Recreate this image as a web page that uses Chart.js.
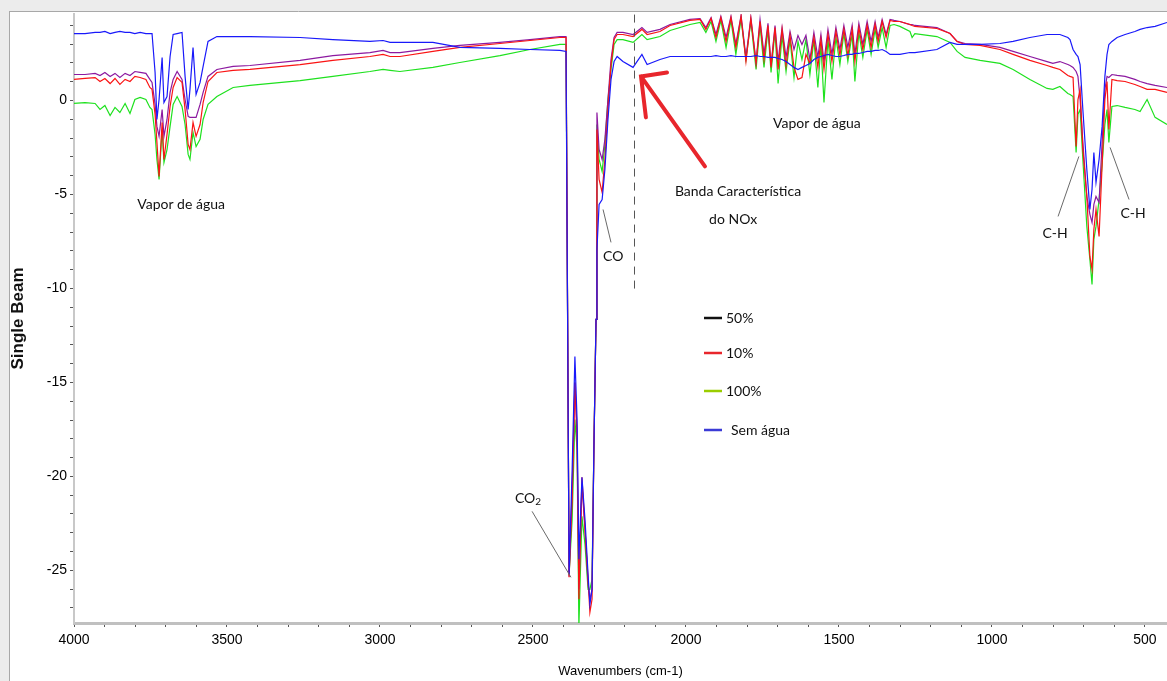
<!DOCTYPE html>
<html>
<head>
<meta charset="utf-8">
<title>Single Beam</title>
<script src="https://cdn.jsdelivr.net/npm/chart.js@4.4.1/dist/chart.umd.min.js"></script>
<style>
  html, body { margin: 0; padding: 0; background: #fff; overflow: hidden; }
  #spectrum { display: block; }
</style>
</head>
<body>
<canvas id="spectrum" width="1167" height="681"></canvas>
<script>
// wavenumbers (cm-1), shared by all four spectra
const wavenumbers = [
  4000, 3964, 3931, 3915, 3899, 3882, 3866, 3850, 3833, 3817, 3801, 3784, 3765, 3752,
  3745, 3735, 3729, 3722, 3712, 3706, 3696, 3686, 3676, 3663, 3647, 3637, 3627, 3621, 3611, 3601, 3588, 3578, 3562, 3533, 3480, 3425,
  3261, 3154, 3033, 2990, 2967, 2935, 2827, 2739, 2608, 2510, 2412,
  2392, 2382, 2372, 2363, 2356, 2350, 2340, 2330, 2320, 2314, 2307, 2301, 2294, 2291, 2284, 2274, 2265, 2255, 2245, 2235, 2225, 2206, 2173, 2144, 2127, 2085,
  2052, 1987, 1954, 1935, 1918, 1902, 1886, 1869, 1853, 1837, 1820, 1804, 1788, 1771, 1758, 1745, 1732, 1722, 1709, 1699,
  1686, 1673, 1660, 1647, 1634, 1621, 1608, 1595, 1582, 1569, 1559, 1549, 1536, 1523, 1510, 1497, 1484, 1471, 1457, 1448,
  1435, 1422, 1408, 1395, 1382, 1372, 1359, 1346, 1333, 1320,
  1301, 1268, 1261, 1252, 1180, 1137, 1114, 1088, 1039, 974, 931, 876, 820, 801, 778, 752, 745, 735, 725, 719,
  712, 703, 690, 680, 673, 667, 660, 650, 640, 631, 624, 618, 608, 591, 565, 533, 516, 493, 467, 428
];

const semAgua = [
  3.56, 3.56, 3.62, 3.62, 3.67, 3.56, 3.62, 3.67, 3.62, 3.62, 3.56, 3.62, 3.56, 3.56,
  3.56, 1.49, -1.01, 0.05, 2.29, -0.11, 0.21, 2.34, 3.51, 3.56, 3.62, 1.28, -0.48, 0.59, 2.82, 0.32, 0.96, 1.81, 3.14, 3.40, 3.40, 3.40,
  3.35, 3.24, 3.14, 3.19, 3.09, 3.09, 3.09, 2.82, 2.77, 2.71, 2.66,
  2.61, -25.21, -19.63, -13.62, -16.97, -24.41, -20.05, -22.29, -25.21, -26.81, -26.01, -18.56, -11.65, -7.93, -5.53, -5.27, -3.67, -1.01, 1.12, 2.07, 2.34, 2.07, 1.76, 2.45, 1.91, 2.18,
  2.34, 2.34, 2.34, 2.34, 2.34, 2.39, 2.34, 2.34, 2.39, 2.34, 2.34, 2.34, 2.34, 2.39, 2.34, 2.34, 2.29, 2.29, 2.29, 2.23,
  2.18, 2.07, 1.91, 1.76, 1.65, 1.76, 1.86, 1.97, 2.18, 2.29, 2.34, 2.39, 2.45, 2.39, 2.34, 2.34, 2.39, 2.45, 2.45, 2.50,
  2.50, 2.55, 2.61, 2.61, 2.66, 2.66, 2.71, 2.61, 2.45, 2.45,
  2.45, 2.55, 2.55, 2.55, 2.71, 3.09, 2.98, 2.98, 2.98, 3.03, 3.14, 3.35, 3.51, 3.51, 3.51, 3.35, 3.24, 2.71, 2.45, 2.34,
  1.91, -0.48, -3.67, -5.80, -4.73, -2.77, -4.36, -3.14, -1.38, 1.28, 2.45, 2.98, 3.14, 3.35, 3.51, 3.67, 3.78, 3.88, 3.94, 4.15
];

const agua50 = [
  1.38, 1.38, 1.44, 1.33, 1.49, 1.28, 1.44, 1.22, 1.44, 1.33, 1.54, 1.49, 1.44, 1.12,
  0.96, -0.21, -1.38, -1.91, -0.48, -1.91, -1.01, 0.43, 1.12, 1.54, 1.12, 0.05, -0.85, -0.90, -0.90, -0.90, -0.21, 0.43, 1.28, 1.65, 1.81, 1.86,
  2.13, 2.39, 2.55, 2.66, 2.55, 2.55, 2.77, 2.93, 3.09, 3.24, 3.40,
  3.40, -25.32, -20.69, -15.00, -17.50, -26.01, -20.43, -22.82, -25.74, -26.54, -26.01, -18.56, -11.65, -0.64, -2.61, -3.14, -2.07, 0.05, 2.18, 3.35, 3.62, 3.62, 3.51, 3.88, 3.62, 3.78,
  4.04, 4.31, 4.36, 3.88, 4.41, 3.51, 4.47, 3.35, 4.47, 2.98, 4.52, 2.29, 4.41, 2.07, 4.31, 2.45, 4.10, 1.86, 3.99, 2.07,
  3.88, 2.29, 3.67, 2.71, 3.46, 2.98, 3.46, 2.18, 3.62, 2.29, 3.51, 2.07, 3.78, 2.45, 3.88, 2.71, 3.99, 2.82, 3.99, 2.45,
  4.10, 2.98, 4.20, 3.14, 4.20, 3.35, 4.31, 3.51, 4.31, 4.26,
  4.20, 4.04, 4.04, 3.99, 3.88, 3.56, 3.14, 3.03, 2.98, 2.82, 2.61, 2.34, 2.07, 1.97, 2.07, 1.91, 1.86, 1.76, 1.54, 1.28,
  0.05, -2.23, -5.11, -6.06, -6.49, -5.53, -5.11, -5.43, -2.23, 0.59, 1.28, 1.22, 1.38, 1.33, 1.28, 1.12, 1.01, 0.90, 0.80, 0.69
];

const agua10 = [
  1.12, 1.17, 1.22, 1.01, 1.17, 0.90, 1.17, 0.85, 1.12, 1.01, 1.28, 1.22, 1.12, 0.69,
  0.59, -0.74, -2.23, -4.04, -1.17, -3.14, -1.81, -0.32, 0.69, 1.22, 0.96, -0.48, -2.34, -2.61, -1.17, -1.91, -1.28, -0.11, 1.01, 1.49, 1.60, 1.65,
  1.91, 2.13, 2.34, 2.45, 2.34, 2.34, 2.61, 2.82, 3.03, 3.19, 3.35,
  3.35, -25.37, -21.22, -15.00, -18.03, -26.54, -20.05, -22.82, -25.48, -27.23, -26.54, -18.56, -11.65, -1.54, -4.20, -4.89, -3.14, -0.48, 1.91, 3.24, 3.51, 3.51, 3.40, 3.78, 3.51, 3.67,
  3.99, 4.26, 4.31, 3.78, 4.36, 3.35, 4.41, 3.14, 4.41, 2.82, 4.47, 2.07, 4.36, 1.97, 4.20, 2.18, 3.99, 1.76, 3.88, 1.65,
  3.78, 1.86, 3.46, 1.76, 1.12, 1.22, 2.45, 1.97, 3.35, 1.76, 3.24, 1.65, 3.51, 2.07, 3.67, 2.39, 3.78, 2.39, 3.78, 2.07,
  3.88, 2.71, 3.99, 2.82, 4.04, 3.14, 4.20, 3.35, 4.26, 4.20,
  4.20, 4.04, 3.99, 3.94, 3.83, 3.56, 3.14, 2.98, 2.93, 2.71, 2.45, 2.13, 1.86, 1.76, 1.65, 1.33, 1.28, 1.22, -2.45, 0.05,
  0.59, -2.61, -5.11, -8.30, -8.99, -6.86, -5.80, -7.23, -3.40, 0.05, 1.01, -1.54, 1.12, 1.06, 1.01, 0.85, 0.74, 0.59, 0.59, 0.43
];

const agua100 = [
  -0.16, -0.11, -0.16, -0.48, -0.27, -0.80, -0.37, -0.64, -0.16, -0.69, 0.05, 0.16, 0.05, -0.37,
  -0.48, -1.81, -3.14, -4.20, -1.54, -3.30, -2.61, -1.38, -0.21, 0.21, -0.32, -1.28, -2.87, -3.14, -1.70, -2.45, -2.07, -1.01, -0.21, 0.21, 0.69, 0.80,
  1.06, 1.28, 1.54, 1.65, 1.60, 1.54, 1.76, 2.02, 2.39, 2.71, 2.98,
  2.98, -25.21, -22.29, -16.97, -18.56, -28.0, -22.13, -23.62, -26.01, -26.01, -25.48, -18.56, -11.65, -1.28, -3.14, -3.78, -2.34, 0.05, 1.65, 2.98, 3.24, 3.24, 3.09, 3.51, 3.24, 3.40,
  3.72, 4.04, 4.15, 3.62, 4.20, 3.14, 4.26, 2.82, 4.26, 2.45, 4.31, 2.18, 4.20, 1.65, 3.99, 1.76, 3.78, 1.49, 3.67, 0.90,
  3.46, 1.54, 3.24, 1.22, 3.14, 2.18, 3.24, 1.38, 3.24, 0.69, 2.98, -0.11, 3.24, 1.12, 3.35, 1.91, 3.56, 2.07, 3.51, 1.01,
  3.62, 2.29, 3.78, 2.45, 3.78, 2.82, 3.88, 2.82, 3.99, 4.04,
  3.94, 3.67, 3.35, 3.56, 3.40, 3.09, 2.61, 2.29, 2.13, 1.97, 1.65, 1.12, 0.64, 0.59, 0.74, 0.37, 0.32, 0.21, -2.77, -0.74,
  -0.48, -3.14, -6.70, -8.46, -9.79, -7.39, -6.70, -5.27, -3.40, -1.28, -0.48, -2.23, -0.32, -0.27, -0.37, -0.48, -0.59, 0.05, -0.90, -1.28
];

const xTickLabels = [4000, 3500, 3000, 2500, 2000, 1500, 1000, 500];
const yTickLabels = [0, -5, -10, -15, -20, -25];

const legendNames = ["50%", "10%", "100%", "Sem água"];
const legendColors = ["#111111", "#e8262c", "#9acd00", "#3b3bd6"];

// notes placed in data units (wavenumber, single beam)
const noteTexts = [
  { text: "Vapor de água", x: 3650, y: -5.53 },
  { text: "Vapor de água", x: 1572, y: -1.22 },
  { text: "Banda Característica", x: 1830, y: -4.84 },
  { text: "do NOx", x: 1846, y: -6.33 },
  { text: "CO", x: 2238, y: -8.3 },
  { text: "C-H", x: 794, y: -7.07 },
  { text: "C-H", x: 539, y: -6.01 }
];
const leaderLines = [
  [2503, -21.86, 2376, -25.37],
  [2271, -5.8, 2245, -7.55],
  [716, -2.98, 784, -6.17],
  [614, -2.5, 552, -5.27]
];
const noxMarker = { x: 2170, top: 4.57, bottom: -10.32 };
const noxArrow = { tipX: 2147, tipY: 1.28, tailX: 1938, tailY: -3.51, headA: [2062, 1.49], headB: [2131, -0.9] };

const toPoints = (ys) => wavenumbers.map((x, i) => ({ x: x, y: ys[i] }));

const frame = {
  id: "frame",
  beforeDraw(chart) {
    const c = chart.ctx;
    const w = chart.width;
    const h = chart.height;
    c.save();
    c.fillStyle = "#ffffff";
    c.fillRect(0, 0, w, h);
    c.fillStyle = "#ececec";
    c.fillRect(0, 0, w, 11);
    c.fillRect(0, 0, 9, h);
    c.strokeStyle = "#a8a8a8";
    c.lineWidth = 1;
    c.beginPath();
    c.moveTo(9.5, 11);
    c.lineTo(9.5, h);
    c.moveTo(9, 11.5);
    c.lineTo(w, 11.5);
    c.stroke();
    c.restore();
  }
};

const notes = {
  id: "notes",
  afterDatasetsDraw(chart) {
    const c = chart.ctx;
    const { x, y } = chart.scales;
    const px = (v) => x.getPixelForValue(v);
    const py = (v) => y.getPixelForValue(v);
    c.save();

    // dashed marker at the NOx band
    c.strokeStyle = "#555";
    c.lineWidth = 1;
    c.setLineDash([8, 6]);
    c.beginPath();
    c.moveTo(Math.round(px(noxMarker.x)) + 0.5, py(noxMarker.top));
    c.lineTo(Math.round(px(noxMarker.x)) + 0.5, py(noxMarker.bottom));
    c.stroke();
    c.setLineDash([]);

    // leader lines
    c.strokeStyle = "#6a6a6a";
    c.lineWidth = 1;
    leaderLines.forEach(([x1, y1, x2, y2]) => {
      c.beginPath();
      c.moveTo(px(x1), py(y1));
      c.lineTo(px(x2), py(y2));
      c.stroke();
    });

    // red arrow
    c.strokeStyle = "#e8262c";
    c.lineWidth = 4;
    c.lineCap = "round";
    c.beginPath();
    c.moveTo(px(noxArrow.tailX), py(noxArrow.tailY));
    c.lineTo(px(noxArrow.tipX), py(noxArrow.tipY));
    c.moveTo(px(noxArrow.headA[0]), py(noxArrow.headA[1]));
    c.lineTo(px(noxArrow.tipX), py(noxArrow.tipY));
    c.lineTo(px(noxArrow.headB[0]), py(noxArrow.headB[1]));
    c.stroke();

    // text notes
    c.fillStyle = "#111";
    c.font = "14px Lato, 'Open Sans', sans-serif";
    c.textAlign = "center";
    c.textBaseline = "middle";
    noteTexts.forEach((n) => c.fillText(n.text, px(n.x), py(n.y)));

    // CO2 with subscript
    const cx = px(2523);
    const cy = py(-21.17);
    c.textAlign = "left";
    const w = c.measureText("CO").width;
    c.fillText("CO", cx - 11, cy);
    c.font = "10px Lato, 'Open Sans', sans-serif";
    c.fillText("2", cx - 11 + w, cy + 3);

    // legend
    const area = chart.chartArea;
    const lx = area.left + 630;
    const rows = [318, 353, 391, 430];
    c.font = "14px Lato, 'Open Sans', sans-serif";
    c.lineCap = "butt";
    legendNames.forEach((name, i) => {
      c.strokeStyle = legendColors[i];
      c.lineWidth = 2.5;
      c.beginPath();
      c.moveTo(lx, rows[i]);
      c.lineTo(lx + 18, rows[i]);
      c.stroke();
      c.fillStyle = "#111";
      c.fillText(name, lx + (i === 3 ? 27 : 22), rows[i]);
    });
    c.restore();
  }
};

const tickFont = { family: "'Liberation Sans', Arial, sans-serif", size: 14 };

new Chart(document.getElementById("spectrum"), {
  type: "line",
  data: {
    datasets: [
      { label: "Sem água", data: toPoints(semAgua), borderColor: "rgb(25,25,250)" },
      { label: "10%", data: toPoints(agua10), borderColor: "rgb(250,20,20)" },
      { label: "50%", data: toPoints(agua50), borderColor: "rgb(140,25,160)" },
      { label: "100%", data: toPoints(agua100), borderColor: "rgb(30,225,30)" }
    ]
  },
  options: {
    responsive: false,
    animation: false,
    layout: { padding: { top: 14, right: 0, left: 0, bottom: 0 } },
    elements: {
      point: { radius: 0 },
      line: { borderWidth: 1.2, tension: 0 }
    },
    plugins: {
      legend: { display: false },
      tooltip: { enabled: false }
    },
    scales: {
      x: {
        type: "linear",
        reverse: true,
        min: 428,
        max: 4000,
        ticks: {
          stepSize: 100,
          includeBounds: false,
          autoSkip: false,
          maxRotation: 0,
          padding: 5,
          color: "#000",
          font: tickFont,
          callback: (v) => (xTickLabels.includes(v) ? String(v) : "")
        },
        grid: { drawOnChartArea: false, tickLength: 4, color: "#555" },
        border: { color: "#c0c0c0", width: 3 },
        title: {
          display: true,
          text: "Wavenumbers (cm-1)",
          color: "#000",
          font: { family: "'Liberation Sans', Arial, sans-serif", size: 13 },
          padding: { top: 0, bottom: 2 }
        },
        afterFit: (scale) => { scale.height = 58; }
      },
      y: {
        min: -27.8,
        max: 4.6,
        ticks: {
          stepSize: 1,
          includeBounds: false,
          autoSkip: false,
          padding: 3,
          color: "#000",
          font: tickFont,
          callback: (v) => (yTickLabels.includes(v) ? String(v) : "")
        },
        grid: { drawOnChartArea: false, tickLength: 4, color: "#555" },
        border: { color: "#c8c8c8", width: 2 },
        title: {
          display: true,
          text: "Single Beam",
          color: "#111",
          font: { family: "'Liberation Sans', Arial, sans-serif", size: 17, weight: "bold" },
          padding: { top: 8, bottom: 0 }
        },
        afterFit: (scale) => { scale.width = 74; }
      }
    }
  },
  plugins: [frame, notes]
});
</script>
</body>
</html>
